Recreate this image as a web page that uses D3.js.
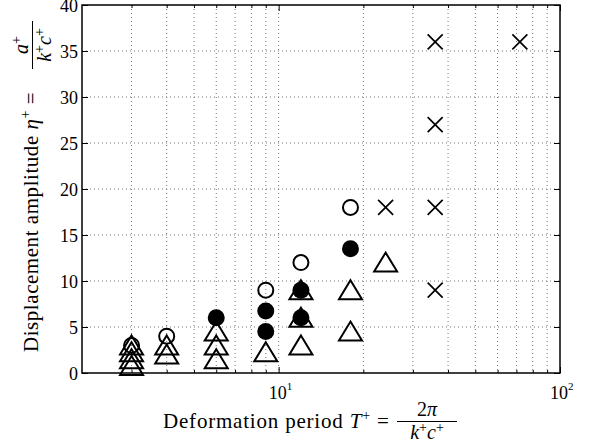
<!DOCTYPE html>
<html>
<head>
<meta charset="utf-8">
<script src="https://cdn.jsdelivr.net/npm/d3@7"></script>
<style>
  body { margin: 0; background: #fff; }
  .grid line { stroke: #777; stroke-width: 1; stroke-dasharray: 1,3; }
  .axis path { display: none; }
  .axis line { stroke: #000; stroke-width: 1; }
</style>
</head>
<body>
<svg id="canvas" width="589" height="447" font-family="Liberation Serif, DejaVu Serif, serif"></svg>
<script>
// data: [T+, eta+]
const openCircles = [[3, 3], [4, 4], [9, 9], [12, 12], [18, 18]];
const filledCircles = [[6, 6], [9, 6.75], [9, 4.5], [12, 9], [12, 6], [18, 13.5]];
const triangles = [[3, 3], [3, 2.25], [3, 1.5], [3, 0.75], [4, 3], [4, 2],
                   [6, 4.5], [6, 3], [6, 1.5], [9, 2.25], [12, 9], [12, 6], [12, 3],
                   [18, 9], [18, 4.5], [24, 12]];
const crosses = [[24, 18], [36, 36], [36, 27], [36, 18], [36, 9], [72, 36]];

const yTicks = [0, 5, 10, 15, 20, 25, 30, 35, 40];
const xMajor = [10, 100];
const xMinor = [3, 4, 5, 6, 7, 8, 9, 20, 30, 40, 50, 60, 70, 80, 90];
const xLabels = [{v: 10, e: "1"}, {v: 100, e: "2"}];

const SERIF = 'Liberation Serif, DejaVu Serif, serif';
const svg = d3.select('#canvas');
const pLeft = 82, pRight = 560, pTop = 5, pBottom = 373;

const x = d3.scaleLog().domain([2, 100]).range([pLeft, pRight]);
const y = d3.scaleLinear().domain([0, 40]).range([pBottom, pTop]);

// grid
const grid = svg.append('g').attr('class', 'grid');
grid.selectAll('.gx').data(xMinor.concat([10]))
    .enter().append('line')
    .attr('x1', d => x(d)).attr('x2', d => x(d))
    .attr('y1', pTop).attr('y2', pBottom);
grid.selectAll('.gy').data(yTicks.slice(1, -1))
    .enter().append('line')
    .attr('x1', pLeft).attr('x2', pRight)
    .attr('y1', d => y(d)).attr('y2', d => y(d));

// ticks on all four sides, pointing inward
svg.append('g').attr('class', 'axis').attr('transform', `translate(0,${pBottom})`)
    .call(d3.axisBottom(x).tickValues(xMajor).tickSize(-6).tickSizeOuter(0).tickFormat(''));
svg.append('g').attr('class', 'axis').attr('transform', `translate(0,${pBottom})`)
    .call(d3.axisBottom(x).tickValues(xMinor).tickSize(-3).tickSizeOuter(0).tickFormat(''));
svg.append('g').attr('class', 'axis').attr('transform', `translate(0,${pTop})`)
    .call(d3.axisTop(x).tickValues(xMajor).tickSize(-6).tickSizeOuter(0).tickFormat(''));
svg.append('g').attr('class', 'axis').attr('transform', `translate(0,${pTop})`)
    .call(d3.axisTop(x).tickValues(xMinor).tickSize(-3).tickSizeOuter(0).tickFormat(''));

const yAxisG = svg.append('g').attr('class', 'axis').attr('transform', `translate(${pLeft},0)`)
    .call(d3.axisLeft(y).tickValues(yTicks).tickSize(-6).tickSizeOuter(0).tickPadding(4));
yAxisG.attr('font-family', SERIF).attr('font-size', 18);
yAxisG.selectAll('text')
    .attr('font-family', SERIF).attr('font-size', 18).attr('fill', '#000').attr('dy', '0.34em');
svg.append('g').attr('class', 'axis').attr('transform', `translate(${pRight},0)`)
    .call(d3.axisRight(y).tickValues(yTicks).tickSize(-6).tickSizeOuter(0).tickFormat(''));

// x tick labels 10^n
xLabels.forEach(l => {
    const t = svg.append('text')
        .attr('x', x(l.v) - 10).attr('y', 399)
        .attr('font-family', SERIF).attr('font-size', 18);
    t.append('tspan').text('10');
    t.append('tspan').attr('dy', -9).attr('font-size', 11).text(l.e);
});

// frame
svg.append('rect')
    .attr('x', pLeft).attr('y', pTop)
    .attr('width', pRight - pLeft).attr('height', pBottom - pTop)
    .attr('fill', 'none').attr('stroke', '#000').attr('stroke-width', 1.5);

// markers
const marks = svg.append('g');
marks.selectAll('.tri').data(triangles).enter().append('path')
    .attr('d', 'M0,-10 L11.5,9 L-11.5,9 Z')
    .attr('transform', d => `translate(${x(d[0])},${y(d[1])})`)
    .attr('fill', 'none').attr('stroke', '#000').attr('stroke-width', 2);
marks.selectAll('.oc').data(openCircles).enter().append('circle')
    .attr('cx', d => x(d[0])).attr('cy', d => y(d[1])).attr('r', 7.5)
    .attr('fill', 'none').attr('stroke', '#000').attr('stroke-width', 2);
marks.selectAll('.fc').data(filledCircles).enter().append('circle')
    .attr('cx', d => x(d[0])).attr('cy', d => y(d[1])).attr('r', 8.5)
    .attr('fill', '#000');
marks.selectAll('.cr').data(crosses).enter().append('path')
    .attr('d', 'M-7.5,-7.5 L7.5,7.5 M-7.5,7.5 L7.5,-7.5')
    .attr('transform', d => `translate(${x(d[0])},${y(d[1])})`)
    .attr('fill', 'none').attr('stroke', '#000').attr('stroke-width', 1.7);

// fraction helper: numerator / bar / denominator centred on cx
function fraction(g, cx, numY, barY, denY, halfW, num, den) {
    const n = g.append('text').attr('x', cx).attr('y', numY).attr('text-anchor', 'middle').attr('font-size', 20);
    num(n);
    g.append('line').attr('x1', cx - halfW).attr('x2', cx + halfW).attr('y1', barY).attr('y2', barY)
        .attr('stroke', '#000').attr('stroke-width', 1);
    const d = g.append('text').attr('x', cx).attr('y', denY).attr('text-anchor', 'middle').attr('font-size', 20);
    den(d);
}
function kc(t) {
    t.append('tspan').attr('font-style', 'italic').text('k');
    t.append('tspan').attr('dy', -7).attr('font-size', 14).text('+');
    t.append('tspan').attr('dy', 7).attr('font-style', 'italic').text('c');
    t.append('tspan').attr('dy', -7).attr('font-size', 14).text('+');
}

// x label
const xl = svg.append('g');
const xt = xl.append('text').attr('x', 163).attr('y', 428).attr('font-size', 21).attr('letter-spacing', 0.8);
xt.append('tspan').text('Deformation period ');
xt.append('tspan').attr('font-style', 'italic').text('T');
xt.append('tspan').attr('dy', -8).attr('font-size', 14).text('+');
xt.append('tspan').attr('dy', 8).text(' =');
fraction(xl, 427, 416, 421.5, 439, 30,
    t => { t.append('tspan').text('2'); t.append('tspan').attr('font-style', 'italic').text('π'); },
    kc);

// y label (rotated)
const yl = svg.append('g').attr('transform', 'translate(38,352) rotate(-90)');
const yt = yl.append('text').attr('x', 0).attr('y', 0).attr('font-size', 21).attr('letter-spacing', 0.55);
yt.append('tspan').text('Displacement amplitude ');
yt.append('tspan').attr('font-style', 'italic').text('η');
yt.append('tspan').attr('dy', -8).attr('font-size', 14).text('+');
yt.append('tspan').attr('dy', 8).text(' =');
fraction(yl, 307, -10, -5.5, 13, 24,
    t => {
        t.append('tspan').attr('font-style', 'italic').text('a');
        t.append('tspan').attr('dy', -7).attr('font-size', 14).text('+');
    },
    kc);
</script>
</body>
</html>
